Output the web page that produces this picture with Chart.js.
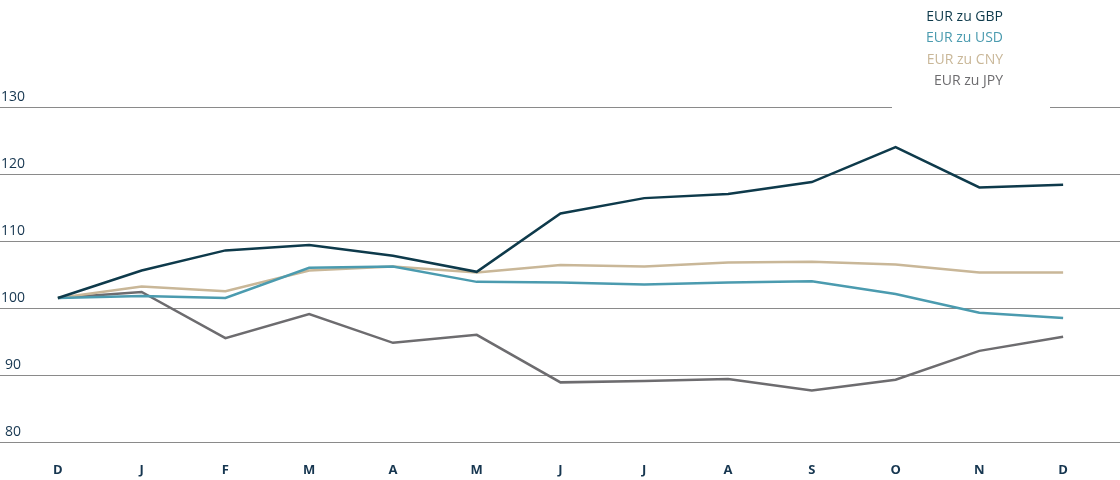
<!DOCTYPE html>
<html>
<head>
<meta charset="utf-8">
<script src="https://cdn.jsdelivr.net/npm/chart.js@4.4.1/dist/chart.umd.min.js"></script>
<style>
  html, body { margin: 0; padding: 0; background: #fff; }
  #wrap { width: 1120px; height: 480px; }
</style>
</head>
<body>
<div id="wrap"><canvas id="mycanvas" width="1120" height="480"></canvas></div>
<script>
var months = ["D", "J", "F", "M", "A", "M", "J", "J", "A", "S", "O", "N", "D"];
var yTicks = [80, 90, 100, 110, 120, 130];

var gbpValues = [101.5, 105.6, 108.6, 109.4, 107.8, 105.4, 114.1, 116.4, 117.0, 118.8, 124.0, 118.0, 118.4];
var usdValues = [101.5, 101.8, 101.5, 106.0, 106.2, 103.9, 103.8, 103.5, 103.8, 104.0, 102.1, 99.3, 98.5];
var cnyValues = [101.5, 103.2, 102.5, 105.6, 106.2, 105.3, 106.4, 106.2, 106.8, 106.9, 106.5, 105.3, 105.3];
var jpyValues = [101.5, 102.4, 95.5, 99.1, 94.8, 96.0, 88.9, 89.1, 89.4, 87.7, 89.3, 93.6, 95.7];

var fontFamily = "'Open Sans', 'Noto Sans', sans-serif";
var textColor = "#163650";

// grid lines across the whole width, labels above them
var gridPlugin = {
    id: "gridPlugin",
    beforeDatasetsDraw: function (chart) {
        var ctx = chart.ctx;
        var y = chart.scales.y;
        ctx.save();
        ctx.strokeStyle = "#8a8a8a";
        ctx.lineWidth = 1;
        ctx.fillStyle = textColor;
        ctx.font = "14px " + fontFamily;
        ctx.textAlign = "center";
        ctx.textBaseline = "middle";
        yTicks.forEach(function (t) {
            var py = Math.round(y.getPixelForValue(t)) + 0.5;
            ctx.beginPath();
            ctx.moveTo(0, py);
            ctx.lineTo(chart.width, py);
            ctx.stroke();
            ctx.fillText(String(t), 13, py - 10);
        });
        // white box behind the legend
        ctx.fillStyle = "#fff";
        ctx.fillRect(892, 0, 158, y.getPixelForValue(130) + 3);
        ctx.restore();
    },
    afterDraw: function (chart) {
        var ctx = chart.ctx;
        ctx.save();
        ctx.font = "14px " + fontFamily;
        ctx.textAlign = "right";
        ctx.textBaseline = "middle";
        chart.data.datasets.forEach(function (ds, i) {
            ctx.fillStyle = ds.borderColor;
            ctx.fillText(ds.label, 1003, 17 + i * 21.5);
        });
        ctx.restore();
    }
};

var ctx = document.getElementById("mycanvas");

var lineGraph = new Chart(ctx, {
    type: "line",
    data: {
        labels: months,
        datasets: [{
            label: "EUR zu GBP",
            borderColor: "#0e3a4b",
            data: gbpValues
        }, {
            label: "EUR zu USD",
            borderColor: "#4b9baf",
            data: usdValues
        }, {
            label: "EUR zu CNY",
            borderColor: "#c9b798",
            data: cnyValues
        }, {
            label: "EUR zu JPY",
            borderColor: "#6d6c6f",
            data: jpyValues
        }]
    },
    options: {
        responsive: false,
        animation: false,
        devicePixelRatio: 1,
        layout: {
            padding: { left: 16, right: 15, top: 107, bottom: 0 }
        },
        elements: {
            line: { borderWidth: 2.5, tension: 0, fill: false },
            point: { radius: 0, hoverRadius: 0 }
        },
        plugins: {
            legend: { display: false },
            tooltip: { enabled: false }
        },
        scales: {
            x: {
                offset: true,
                grid: { display: false },
                border: { display: false },
                afterFit: function (s) { s.height = 38; },
                ticks: {
                    padding: 12,
                    color: textColor,
                    font: { family: fontFamily, size: 13, weight: "bold" },
                    maxRotation: 0,
                    autoSkip: false
                }
            },
            y: {
                display: false,
                min: 80,
                max: 130
            }
        }
    },
    plugins: [gridPlugin]
});
</script>
</body>
</html>
